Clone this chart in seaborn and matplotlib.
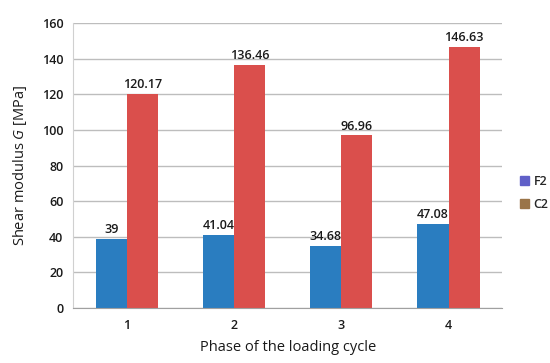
import pandas as pd
import matplotlib
matplotlib.use('Agg')
import matplotlib.pyplot as plt
import seaborn as sns
from matplotlib.patches import Patch

# values
phases = ['1', '2', '3', '4']
f2 = [39, 41.04, 34.68, 47.08]
c2 = [120.17, 136.46, 96.96, 146.63]
f2_labels = ['39', '41.04', '34.68', '47.08']
c2_labels = ['120.17', '136.46', '96.96', '146.63']

df = pd.DataFrame({
    'phase': phases * 2,
    'G': f2 + c2,
    'series': ['F2'] * 4 + ['C2'] * 4,
})

sns.set_style('white')
plt.rcParams['font.family'] = ['Open Sans', 'DejaVu Sans']
plt.rcParams['mathtext.fontset'] = 'custom'
plt.rcParams['mathtext.it'] = 'Open Sans:italic'
plt.rcParams['mathtext.rm'] = 'Open Sans'

fig = plt.figure(figsize=(5.5, 3.63), dpi=100)
ax = fig.add_axes([0.133, 0.1515, 0.78, 0.785])

bar_colors = {'F2': '#2a7dc0', 'C2': '#da4f4c'}
sns.barplot(data=df, x='phase', y='G', hue='series', palette=bar_colors,
            width=0.58, gap=0, saturation=1, linewidth=0, ax=ax, legend=False)

for cont, labs in zip(ax.containers, [f2_labels, c2_labels]):
    ax.bar_label(cont, labels=labs, padding=2, fontsize=9, color='#1a1a1a',
                 fontweight='semibold')

ax.set_ylim(0, 160)
ax.set_xlim(-0.5, 3.5)
ax.set_yticks(range(0, 161, 20))
ax.yaxis.grid(True, color='#bdbdbd', linewidth=1)
ax.set_axisbelow(True)
for s in ['top', 'right']:
    ax.spines[s].set_visible(False)
ax.spines['left'].set_color('#d0d0d0')
ax.spines['bottom'].set_color('#a0a0a0')
ax.tick_params(axis='y', length=0, labelsize=9, pad=7, labelcolor='#1a1a1a')
ax.tick_params(axis='x', length=0, labelsize=9, pad=8, labelcolor='#1a1a1a')
for t in ax.get_xticklabels() + ax.get_yticklabels():
    t.set_fontweight('semibold')
ax.set_xticks([-0.5, 0.5, 1.5, 2.5, 3.5], minor=True)
ax.tick_params(axis='x', which='minor', length=4, color='#a0a0a0')

ax.set_xlabel('Phase of the loading cycle', fontsize=10.5, labelpad=6, color='#1a1a1a')
ax.set_ylabel(r'Shear modulus $\it{G}$ [MPa]', fontsize=10.5, labelpad=9, color='#1a1a1a')

handles = [Patch(color='#6060c8', label='F2'), Patch(color='#9a7448', label='C2')]
leg = fig.legend(handles=handles, loc='upper left', bbox_to_anchor=(0.925, 0.55),
                 frameon=False, fontsize=9, handlelength=0.7, handleheight=0.7,
                 handletextpad=0.4, labelspacing=0.8)
for t in leg.get_texts():
    t.set_fontweight('semibold')

fig.savefig('out.png', dpi=100)
